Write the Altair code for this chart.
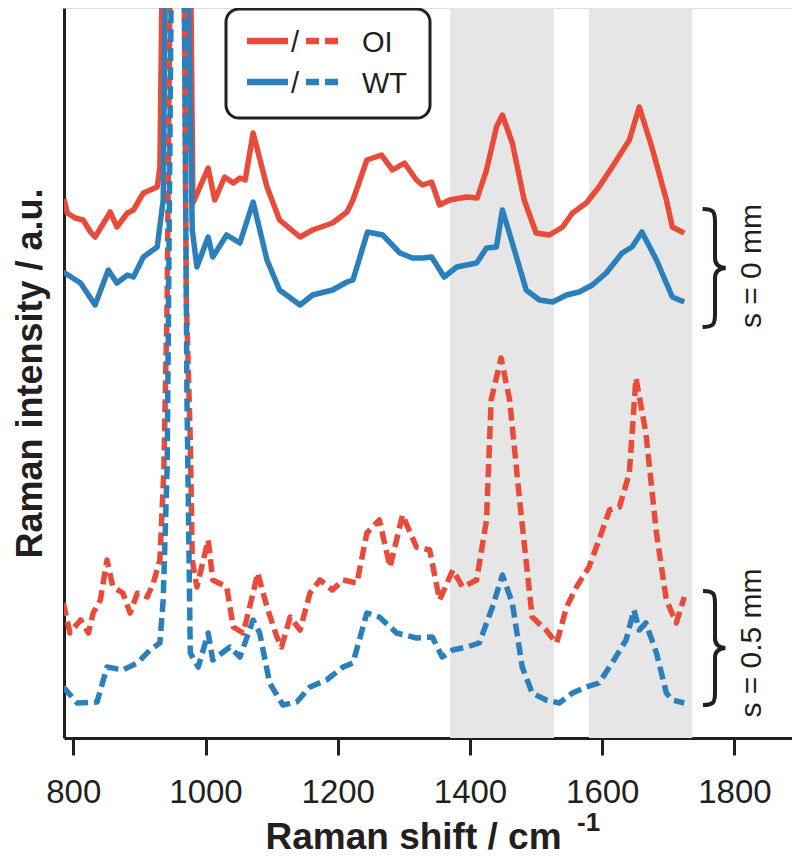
import altair as alt
import pandas as pd

# ---- data (Raman shift in cm^-1, intensity in arbitrary units) ----
wn_oi_0 = [786, 791, 803, 815, 826, 833, 856, 866, 882, 891, 906, 927, 931, 934, 956, 978, 981,
           1004, 1014, 1029, 1042, 1052, 1060, 1072, 1093, 1112, 1143, 1162, 1192, 1214, 1223,
           1244, 1266, 1283, 1301, 1319, 1328, 1342, 1354, 1369, 1395, 1411, 1425, 1440, 1449,
           1464, 1482, 1500, 1520, 1540, 1555, 1576, 1595, 1615, 1641, 1656, 1675, 1697, 1706, 1724]
int_oi_0 = [543, 529, 524, 522, 510, 505, 530, 515, 529, 532, 549, 555, 575, 742, 892, 742, 539,
            574, 542, 565, 559, 564, 562, 609, 555, 522, 505, 512, 519, 530, 542,
            582, 587, 572, 579, 562, 557, 560, 537, 542, 545, 544, 572, 615, 627,
            599, 542, 509, 507, 515, 529, 539, 555, 575, 602, 635, 595, 542, 515, 509]

wn_wt_0 = [785, 811, 833, 853, 866, 882, 891, 906, 927, 936, 939, 957, 974, 980, 987,
           1004, 1011, 1032, 1052, 1072, 1093, 1112, 1143, 1162, 1192, 1214, 1223, 1245, 1268,
           1294, 1313, 1328, 1342, 1361, 1380, 1410, 1425, 1440, 1449, 1464, 1485, 1505, 1525,
           1546, 1565, 1585, 1606, 1630, 1645, 1660, 1682, 1706, 1724]
int_wt_0 = [470, 459, 437, 472, 459, 467, 465, 485, 495, 542, 742, 892, 742, 512, 475,
            505, 485, 507, 499, 540, 482, 452, 437, 447, 452, 460, 462, 510, 507,
            489, 484, 484, 485, 465, 475, 479, 494, 495, 532, 499, 452, 442, 440,
            447, 450, 457, 469, 489, 495, 510, 482, 445, 440]

wn_oi_05 = [785, 795, 811, 823, 830, 841, 851, 860, 875, 886, 897, 912, 921, 931, 937, 942, 946,
            957, 968, 971, 977, 980, 987, 1004, 1011, 1032, 1042, 1057, 1072, 1079, 1093, 1108,
            1115, 1128, 1143, 1158, 1173, 1192, 1208, 1229, 1244, 1263, 1279, 1298, 1319, 1339,
            1354, 1374, 1389, 1410, 1425, 1432, 1447, 1460, 1475, 1494, 1515, 1531, 1546, 1561,
            1580, 1595, 1611, 1626, 1641, 1651, 1666, 1682, 1697, 1712, 1724]
int_oi_05 = [139, 109, 122, 109, 129, 142, 182, 155, 149, 129, 149, 145, 159, 182, 272, 442, 742,
             892, 742, 442, 302, 182, 155, 202, 162, 155, 115, 109, 149, 169, 135, 105,
             95, 125, 112, 149, 162, 152, 162, 159, 209, 222, 175, 227, 195, 192,
             142, 172, 155, 162, 222, 342, 384, 342, 242, 125, 112, 99, 135, 155,
             175, 202, 232, 235, 269, 364, 309, 209, 142, 119, 145]

wn_wt_05 = [785, 806, 836, 851, 875, 897, 916, 931, 936, 942, 948, 957, 968, 972, 974, 977, 989,
            1004, 1011, 1037, 1052, 1072, 1082, 1097, 1117, 1138, 1158, 1183, 1208, 1223, 1244,
            1263, 1289, 1319, 1343, 1358, 1374, 1395, 1414, 1434, 1449, 1464, 1479, 1494, 1515,
            1535, 1555, 1576, 1595, 1615, 1636, 1648, 1656, 1666, 1682, 1697, 1706, 1724]
int_wt_05 = [55, 39, 40, 75, 72, 79, 92, 99, 142, 275, 742, 892, 742, 342, 242, 89, 75,
             109, 82, 95, 85, 122, 109, 59, 37, 40, 55, 62, 75, 79, 129,
             125, 109, 104, 105, 85, 92, 95, 99, 135, 167, 139, 75, 49, 42,
             39, 49, 55, 59, 79, 102, 132, 112, 119, 89, 49, 42, 39]

band_start = [1370, 1580]
band_end = [1527, 1736]

series_names = ["OI", "WT", "OI", "WT"]
series_s = ["0 mm", "0 mm", "0.5 mm", "0.5 mm"]

# ---- styling ----
RED = "#E84B3A"
BLUE = "#2B80BC"
INK = "#231F20"
FONT = "Liberation Sans"

rows = []
for name, s, wn, iv in zip(series_names, series_s,
                           [wn_oi_0, wn_wt_0, wn_oi_05, wn_wt_05],
                           [int_oi_0, int_wt_0, int_oi_05, int_wt_05]):
    for w, v in zip(wn, iv):
        rows.append({"genotype": name, "s": s, "wn": w, "intensity": v})
df = pd.DataFrame(rows)

xscale = alt.Scale(domain=[786, 1887], nice=False, zero=False)
yscale = alt.Scale(domain=[4, 734], nice=False, zero=False)

xaxis = alt.Axis(
    title="Raman shift / cm", values=[800, 1000, 1200, 1400, 1600, 1800], format="d",
    grid=False, domainColor=INK, domainWidth=3, tickColor=INK, tickWidth=3, tickSize=17,
    labelFont=FONT, labelFontSize=33, labelColor=INK, labelPadding=21,
    titleFont=FONT, titleFontSize=37, titleFontWeight="bold", titleColor=INK,
    titleAlign="left", titleAnchor="start", titleX=201, titleY=110, titleBaseline="alphabetic",
)
yaxis = alt.Axis(
    title="Raman intensity / a.u.", grid=False, ticks=False, labels=False,
    domainColor=INK, domainWidth=3,
    titleFont=FONT, titleFontSize=36, titleFontWeight="bold", titleColor=INK,
    titlePadding=15,
)

bands = alt.Chart(pd.DataFrame({"start": band_start, "end": band_end})).mark_rect(
    color="#E6E6E6"
).encode(
    x=alt.X("start:Q", scale=xscale, axis=xaxis),
    x2="end:Q",
)

def spectrum(name, s, color, dash):
    kw = dict(clip=True, strokeWidth=5.5, color=color, strokeJoin="round")
    if dash:
        kw["strokeDash"] = [13, 6]
    return alt.Chart(df).transform_filter(
        (alt.datum.genotype == name) & (alt.datum.s == s)
    ).mark_line(**kw).encode(
        x=alt.X("wn:Q", scale=xscale, axis=xaxis),
        y=alt.Y("intensity:Q", scale=yscale, axis=yaxis),
        order="wn:Q",
    )

lines = [
    spectrum("OI", "0 mm", RED, False),
    spectrum("WT", "0 mm", BLUE, False),
    spectrum("OI", "0.5 mm", RED, True),
    spectrum("WT", "0.5 mm", BLUE, True),
]

one = pd.DataFrame({"k": [0]})

legend_box = alt.Chart(one).mark_rect(
    fill="white", stroke=INK, strokeWidth=3, cornerRadius=13
).encode(x=alt.value(162), x2=alt.value(366), y=alt.value(1), y2=alt.value(110))

def lrule(x1, x2, y, color, dash):
    kw = dict(color=color, strokeWidth=6.5)
    if dash:
        kw["strokeDash"] = [13, 6]
    return alt.Chart(one).mark_rule(**kw).encode(x=alt.value(x1), x2=alt.value(x2), y=alt.value(y))

def txt(t, x, y, size, **kw):
    base = dict(text=t, font=FONT, fontSize=size, color=INK, baseline="middle", align="left")
    base.update(kw)
    return alt.Chart(one).mark_text(**base).encode(x=alt.value(x), y=alt.value(y))

legend = [
    legend_box,
    lrule(183, 224, 33, RED, False), lrule(242, 277, 33, RED, True),
    lrule(183, 224, 74, BLUE, False), lrule(242, 277, 74, BLUE, True),
    txt("/", 231, 35, 29, align="center"), txt("/", 231, 76, 29, align="center"),
    txt("OI", 298, 35, 29), txt("WT", 298, 76, 29),
]

BRACE = ("M -0.21 -1 C -0.02 -1 0 -0.95 0 -0.78 L 0 -0.17 C 0 -0.06 0.06 -0.01 0.18 0 "
         "C 0.06 0.01 0 0.06 0 0.17 L 0 0.78 C 0 0.95 -0.02 1 -0.21 1")

def brace(x, y, h):
    return alt.Chart(one).mark_point(
        shape=BRACE, size=h * h, filled=False, stroke=INK, strokeWidth=4, opacity=1
    ).encode(x=alt.value(x), y=alt.value(y))

side = [
    brace(651, 260, 118), brace(651, 640, 114),
    txt("s = 0 mm", 688, 258, 30, angle=270, align="center"),
    txt("s = 0.5 mm", 688, 635, 30, angle=270, align="center"),
    txt("-1", 513, 823, 26, fontWeight="bold", baseline="alphabetic"),
]

chart = alt.layer(bands, *lines, *legend, *side).properties(
    width=728, height=730,
    autosize=alt.AutoSizeParams(type="none"),
    padding={"left": 56, "top": 0, "right": 0, "bottom": 118},
).configure_view(stroke=None).configure(font=FONT)

chart.save("out.html", embed_options={"renderer": "svg", "actions": False})
